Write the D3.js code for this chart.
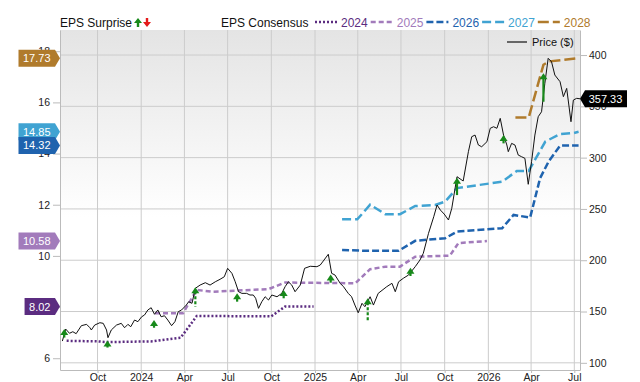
<!DOCTYPE html>
<html>
<head>
<meta charset="utf-8">
<script src="https://cdn.jsdelivr.net/npm/d3@7"></script>
<style>
  body { margin: 0; background: #fff; }
  svg { display: block; font-family: "Liberation Sans", Arial, sans-serif; }
</style>
</head>
<body>
<div class="svg-container"></div>
<script>
/*** Data ***/

// weekly-ish closing price ($), right axis
let price = [
  ["2023-07-19",121.2],["2023-07-26",132.9],["2023-08-03",128.8],["2023-08-10",130.3],["2023-08-17",128.4],
  ["2023-08-28",136.2],["2023-09-08",137.5],["2023-09-15",134.2],["2023-09-18",132.0],["2023-09-25",136.8],
  ["2023-10-06",139.1],["2023-10-13",138.5],["2023-10-20",132.0],["2023-10-23",124.5],["2023-10-30",132.0],
  ["2023-11-10",136.8],["2023-11-20",138.5],["2023-11-27",134.2],["2023-12-04",137.5],["2023-12-10",135.2],
  ["2023-12-18",141.7],["2023-12-25",140.1],["2024-01-02",144.9],["2024-01-08",146.6],["2024-01-15",151.5],
  ["2024-01-22",153.7],["2024-01-29",147.3],["2024-02-05",151.5],["2024-02-12",144.9],["2024-02-19",145.9],
  ["2024-02-26",141.7],["2024-03-05",136.2],["2024-03-12",140.1],["2024-03-19",149.8],["2024-03-26",151.5],
  ["2024-04-05",156.3],["2024-04-10",159.6],["2024-04-17",158.0],["2024-04-24",172.6],["2024-05-04",175.8],
  ["2024-05-15",178.1],["2024-05-25",175.8],["2024-06-05",179.0],["2024-06-15",181.4],["2024-06-24",183.9],
  ["2024-07-01",192.1],["2024-07-10",187.2],["2024-07-17",179.0],["2024-07-24",169.3],["2024-07-31",167.7],
  ["2024-08-10",167.7],["2024-08-17",166.1],["2024-08-24",166.1],["2024-08-29",162.9],["2024-09-04",153.1],
  ["2024-09-11",159.6],["2024-09-18",164.4],["2024-09-25",161.2],["2024-10-02",166.1],["2024-10-13",164.4],
  ["2024-10-23",167.7],["2024-10-30",174.2],["2024-11-06",179.0],["2024-11-13",175.8],["2024-11-20",169.3],
  ["2024-12-01",175.8],["2024-12-10",192.1],["2024-12-22",194.1],["2025-01-05",193.7],["2025-01-12",195.3],
  ["2025-01-20",200.2],["2025-01-29",205.8],["2025-02-05",187.2],["2025-02-12",185.6],["2025-02-23",177.5],
  ["2025-03-02",174.2],["2025-03-12",167.7],["2025-03-19",164.4],["2025-03-26",156.3],["2025-04-02",148.8],
  ["2025-04-10",158.0],["2025-04-16",154.7],["2025-04-27",164.4],["2025-05-04",156.3],["2025-05-14",167.7],
  ["2025-06-01",174.2],["2025-06-12",177.5],["2025-06-19",169.3],["2025-06-26",179.0],["2025-07-06",182.4],
  ["2025-07-17",185.6],["2025-07-31",193.7],["2025-08-10",200.2],["2025-08-17",206.7],["2025-08-28",226.2],
  ["2025-09-08",242.4],["2025-09-15",253.8],["2025-09-22",248.9],["2025-09-30",245.0],["2025-10-09",239.2],
  ["2025-10-16",250.6],["2025-10-27",281.4],["2025-11-09",277.2],["2025-11-20",305.8],["2025-11-27",320.4],
  ["2025-12-04",322.0],["2025-12-11",312.3],["2025-12-18",310.6],["2025-12-29",315.5],["2026-01-05",328.6],
  ["2026-01-12",330.1],["2026-01-19",328.6],["2026-01-26",338.3],["2026-02-02",322.0],["2026-02-09",312.3],
  ["2026-02-12",305.8],["2026-02-19",313.9],["2026-02-26",312.3],["2026-03-05",302.5],["2026-03-12",300.9],
  ["2026-03-19",299.3],["2026-03-26",274.0],["2026-04-02",296.0],["2026-04-09",322.0],["2026-04-16",339.9],
  ["2026-04-23",344.7],["2026-04-30",372.4],["2026-05-07",396.8],["2026-05-14",393.5],["2026-05-21",380.5],
  ["2026-06-01",374.0],["2026-06-08",359.4],["2026-06-15",367.5],["2026-06-24",335.0],["2026-06-29",356.1],
  ["2026-07-06",357.8],["2026-07-13",357.33]
]

// EPS consensus per fiscal year, left axis
let eps2024 = [["2023-07-28",6.68],["2023-10-01",6.66],["2023-10-20",6.63],["2024-01-25",6.66],["2024-03-01",6.75],
  ["2024-03-24",6.80],["2024-04-27",7.65],["2024-10-01",7.64],["2024-10-30",8.02],["2024-12-29",8.02]]
let eps2025 = [["2024-01-30",7.76],["2024-03-29",7.76],["2024-04-27",8.67],["2024-05-29",8.60],["2024-09-25",8.70],
  ["2024-10-30",8.96],["2025-03-27",8.93],["2025-04-27",9.48],["2025-05-29",9.58],["2025-06-29",9.58],
  ["2025-07-31",9.97],["2025-10-12",10.01],["2025-10-30",10.50],["2025-12-29",10.58]]
let eps2026 = [["2025-02-27",10.23],["2025-04-17",10.20],["2025-06-26",10.20],["2025-07-31",10.59],["2025-10-02",10.69],
  ["2025-10-27",10.95],["2026-01-30",11.08],["2026-02-23",11.60],["2026-03-30",11.50],["2026-04-20",13.04],
  ["2026-05-08",13.69],["2026-06-01",14.31],["2026-07-10",14.32]]
let eps2027 = [["2025-02-27",11.43],["2025-03-31",11.43],["2025-04-27",12.00],["2025-05-29",11.63],["2025-06-29",11.63],
  ["2025-07-31",11.95],["2025-09-11",11.99],["2025-10-02",12.12],["2025-10-27",12.65],["2026-01-30",12.90],
  ["2026-03-02",13.32],["2026-03-27",13.32],["2026-05-01",14.47],["2026-06-01",14.76],["2026-06-29",14.80],
  ["2026-07-10",14.85]]
let eps2028 = [["2026-02-27",15.41],["2026-03-27",15.41],["2026-04-27",17.47],["2026-05-08",17.60],["2026-07-10",17.73]]

let years = ["2024", "2025", "2026", "2027", "2028"]
let yearColors = ["#5b2c80", "#a27bbb", "#1f63ae", "#40a3d2", "#b07b2c"]
let yearDash = ["2,2", "5,3", "7,3", "9,4", "11,4"]
let yearSeries = [eps2024, eps2025, eps2026, eps2027, eps2028]

// EPS surprise arrows (drawn on price axis)
let surpriseDates = ["2023-07-23","2023-10-22","2024-01-28","2024-04-24","2024-07-21","2024-10-27",
  "2025-02-03","2025-04-22","2025-07-21","2025-10-27","2026-02-02","2026-04-27"]
let surpriseTip  = [132.9, 121.7, 141.7, 173.6, 167.7, 171.0, 186.1, 162.9, 192.7, 280.4, 322.0, 382.2]
let surpriseBase = [124.6, 114.1, 134.2, 154.7, 159.6, 162.9, 178.1, 140.1, 184.6, 263.5, 313.9, 354.5]
let surpriseDashed = [false, true, false, true, false, false, false, true, false, false, false, false]

let leftTicks = [6, 8, 10, 12, 14, 16, 18]
let rightTicks = [100, 150, 200, 250, 300, 350, 400]
let lastPrice = 357.33

/*** Layout ***/

const svgWidth = 640
const svgHeight = 382
const plotLeft = 60
const plotRight = 580
const plotTop = 30
const plotBottom = 370

const parse = d3.timeParse("%Y-%m-%d")

let svg = d3.select(".svg-container")
  .append("svg")
  .attr("width", svgWidth)
  .attr("height", svgHeight)

let xScale = d3.scaleTime()
  .domain([parse("2023-07-14"), parse("2026-07-13")])
  .range([plotLeft, plotRight])

let yLeft = d3.scaleLinear().domain([5.54, 18.83]).range([plotBottom, plotTop])
let yRight = d3.scaleLinear().domain([93, 424.4]).range([plotBottom, plotTop])

/* background gradient */
let defs = svg.append("defs")
let grad = defs.append("linearGradient").attr("id", "bg").attr("x1", 0).attr("y1", 0).attr("x2", 0).attr("y2", 1)
grad.append("stop").attr("offset", "0%").attr("stop-color", "#e4e4e4")
grad.append("stop").attr("offset", "55%").attr("stop-color", "#ffffff")
grad.append("stop").attr("offset", "100%").attr("stop-color", "#ffffff")

svg.append("rect")
  .attr("x", plotLeft).attr("y", plotTop)
  .attr("width", plotRight - plotLeft).attr("height", plotBottom - plotTop)
  .attr("fill", "url(#bg)")

/* grid */
let quarterTicks = xScale.ticks(d3.timeMonth.every(3))

svg.append("g").selectAll("line")
  .data(quarterTicks)
  .enter().append("line")
  .attr("x1", d => xScale(d)).attr("x2", d => xScale(d))
  .attr("y1", plotTop).attr("y2", plotBottom)
  .attr("stroke", "#cccccc")

svg.append("g").selectAll("line")
  .data(rightTicks)
  .enter().append("line")
  .attr("x1", plotLeft).attr("x2", plotRight)
  .attr("y1", d => yRight(d)).attr("y2", d => yRight(d))
  .attr("stroke", "#cccccc")

/* axes */
let fmt = d => d.getMonth() === 0 ? d3.timeFormat("%Y")(d) : d3.timeFormat("%b")(d)

let xAxis = svg.append("g")
  .attr("transform", `translate(0, ${plotBottom})`)
  .call(d3.axisBottom(xScale).tickValues(quarterTicks).tickFormat(fmt).tickSize(3).tickPadding(1).tickSizeOuter(0))

let lAxis = svg.append("g")
  .attr("transform", `translate(${plotLeft}, 0)`)
  .call(d3.axisLeft(yLeft).tickValues(leftTicks).tickSize(7).tickPadding(3).tickSizeOuter(0))

let rAxis = svg.append("g")
  .attr("transform", `translate(${plotRight}, 0)`)
  .call(d3.axisRight(yRight).tickValues(rightTicks).tickSize(7).tickPadding(2).tickSizeOuter(0))

for (let ax of [xAxis, lAxis, rAxis]) {
  ax.select(".domain").attr("stroke", "#bbbbbb")
  ax.selectAll("line").attr("stroke", "#bbbbbb")
  ax.selectAll("text").attr("fill", "#222").style("font-size", "10.5px")
    .style("font-family", "'Liberation Sans', Arial, sans-serif")
}

/* consensus lines */
let epsLine = d3.line()
  .x(d => xScale(parse(d[0])))
  .y(d => yLeft(d[1]))

svg.append("g").selectAll("path")
  .data(yearSeries)
  .enter().append("path")
  .attr("d", d => epsLine(d))
  .attr("fill", "none")
  .attr("stroke", (d, i) => yearColors[i])
  .attr("stroke-width", 2.5)
  .attr("stroke-dasharray", (d, i) => yearDash[i])

/* price line */
let priceLine = d3.line()
  .x(d => xScale(parse(d[0])))
  .y(d => yRight(d[1]))

svg.append("path")
  .attr("d", priceLine(price))
  .attr("fill", "none")
  .attr("stroke", "#111")
  .attr("stroke-width", 1)

/* surprise arrows */
let green = "#17891a"
let arrows = svg.append("g")
surpriseDates.forEach((dt, i) => {
  let ax = xScale(parse(dt))
  let tip = yRight(surpriseTip[i])
  let base = yRight(surpriseBase[i])
  arrows.append("line")
    .attr("x1", ax).attr("x2", ax)
    .attr("y1", tip + 4).attr("y2", base)
    .attr("stroke", green).attr("stroke-width", 2.2)
    .attr("stroke-dasharray", surpriseDashed[i] ? "3,2" : null)
  arrows.append("path")
    .attr("d", `M${ax},${tip} L${ax + 4},${tip + 6} L${ax - 4},${tip + 6} Z`)
    .attr("fill", green)
})

/* left badges */
function leftBadge(value, color) {
  let y = yLeft(value)
  let g = svg.append("g")
  let t = g.append("text")
    .attr("y", y).attr("dy", "0.36em")
    .attr("fill", "#fff").style("font-size", "11px")
    .text(value.toFixed(2))
  let w = t.node().getComputedTextLength()
  let x0 = plotLeft - 5 - w - 9
  g.insert("path", "text")
    .attr("d", `M${x0},${y - 8.5} L${plotLeft - 5},${y - 8.5} L${plotLeft},${y} L${plotLeft - 5},${y + 8.5} L${x0},${y + 8.5} Z`)
    .attr("fill", color)
  t.attr("x", x0 + 4.5)
}

let lastValues = yearSeries.map(s => s[s.length - 1][1])
leftBadge(lastValues[0], yearColors[0])
leftBadge(lastValues[1], yearColors[1])
leftBadge(lastValues[4], yearColors[4])
leftBadge(lastValues[3], yearColors[3])
leftBadge(lastValues[2], yearColors[2])

/* price badge */
{
  let y = yRight(lastPrice)
  let g = svg.append("g")
  g.append("path")
    .attr("d", `M${plotRight},${y} L${plotRight + 5},${y - 8.5} L627,${y - 8.5} L627,${y + 8.5} L${plotRight + 5},${y + 8.5} Z`)
    .attr("fill", "#000")
  g.append("text")
    .attr("x", 605.5).attr("y", y).attr("dy", "0.36em")
    .attr("text-anchor", "middle")
    .attr("fill", "#fff").style("font-size", "11px")
    .text(lastPrice.toFixed(2))
}

/* legend */
let legend = svg.append("g").style("font-size", "12px")

legend.append("text").attr("x", plotLeft).attr("y", 27).attr("fill", "#111").text("EPS Surprise")
legend.append("path").attr("d", "M138,18 L142,23 L139.2,23 L139.2,27 L136.8,27 L136.8,23 L134,23 Z").attr("fill", green)
legend.append("path").attr("d", "M147,27 L151,22 L148.2,22 L148.2,18 L145.8,18 L145.8,22 L143,22 Z").attr("fill", "#e41a1a")

legend.append("text").attr("x", 221).attr("y", 27).attr("fill", "#111").text("EPS Consensus")

let cursor = 315
years.forEach((yr, i) => {
  legend.append("line")
    .attr("x1", cursor).attr("x2", cursor + 22)
    .attr("y1", 22).attr("y2", 22)
    .attr("stroke", yearColors[i]).attr("stroke-width", 2.5)
    .attr("stroke-dasharray", yearDash[i])
  let t = legend.append("text").attr("x", cursor + 26).attr("y", 27)
    .attr("fill", yearColors[i]).text(yr)
  cursor += 26 + t.node().getComputedTextLength() + 3
})

/* price legend */
svg.append("line")
  .attr("x1", 507).attr("x2", 527).attr("y1", 42).attr("y2", 42)
  .attr("stroke", "#666").attr("stroke-width", 2)
svg.append("text")
  .attr("x", 532).attr("y", 42).attr("dy", "0.36em")
  .attr("fill", "#111").style("font-size", "11px")
  .text("Price ($)")
</script>
</body>
</html>
